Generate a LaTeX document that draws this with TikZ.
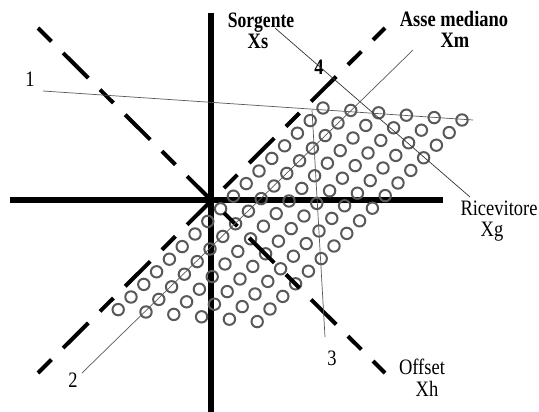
\documentclass[tikz,border=0pt]{standalone}
\usepackage{graphicx}
\usepackage{fontspec}
\setmainfont{Liberation Serif}
\usetikzlibrary{positioning}
\newcommand{\squeeze}[1]{\scalebox{0.84}[1]{#1}}

\begin{document}
\begin{tikzpicture}[x=1pt, y=-1pt,
  axis/.style={line width=5.5pt},
  dashaxis/.style={line width=4pt, dash pattern=on 19pt off 16.5pt on 35.4pt off 16.5pt},
  leader/.style={draw=black!65, line width=0.7pt},
  ring/.style={draw=black!65, line width=2pt},
  lbl/.style={font=\fontsize{22}{24}\selectfont, anchor=base, inner sep=0pt},
  blbl/.style={font=\fontsize{22}{24}\selectfont\bfseries, anchor=base, inner sep=0pt},
  num/.style={font=\fontsize{22}{24}\selectfont, anchor=base, inner sep=0pt},
]
\useasboundingbox[fill=white] (0,0) rectangle (539,412);

% Axes
\coordinate (o) at (211,200);
\coordinate (ytop) at (211,13);
\coordinate (ybot) at (211,412);
\coordinate (xleft) at (10,200);
\coordinate (xright) at (443,200);
\draw[axis] (ytop) -- (ybot);
\draw[axis] (xleft) -- (xright);

% Traces (6 rows x 17 points)
\foreach \j in {0,...,5}
  \foreach \i in {0,...,16}
    \draw[ring] ({323+27.8*\j-12.8*\i},{108+2.4*\j+12.6*\i}) circle (5.7pt);

% Offset and median axes
\coordinate (hstart) at (38,28);
\coordinate (hend) at (385,373);
\coordinate (mstart) at (38,373);
\coordinate (mend) at (385,28);
\draw[dashaxis] (hstart) -- (hend);
\draw[dashaxis] (mstart) -- (mend);

% Labels
\node[blbl] (sorg) at (261,28) {\scalebox{0.8}[1]{Sorgente}};
\node[blbl] (sorgx) at (258,49) {\squeeze{Xs}};
\node[blbl] (asse) at (454,27) {\squeeze{Asse mediano}};
\node[blbl] (assex) at (455,48) {\squeeze{Xm}};
\node[lbl] (ricev) at (499,215) {\squeeze{Ricevitore}};
\node[lbl] (ricevx) at (492,236) {\squeeze{Xg}};
\node[lbl] (offs) at (422,374) {\squeeze{Offset}};
\node[lbl] (offsx) at (427,396) {\squeeze{Xh}};
\node[num] (n1) at (30,87) {\squeeze{1}};
\node[num] (n2) at (73,387) {\squeeze{2}};
\node[num] (n3) at (332,365) {\squeeze{3}};
\node[num, font=\fontsize{22}{24}\selectfont\bfseries] (n4) at (319,75) {\squeeze{4}};

% Leader lines
\coordinate (a1) at (43,91);
\coordinate (b1) at (473,120);
\coordinate (a2) at (82,373);
\coordinate (b2) at (413,50);
\coordinate (a3) at (325,337);
\coordinate (b3) at (312,110);
\coordinate (a4) at (275,28);
\coordinate (b4) at (470,197);
\draw[leader] (a1) -- (b1);
\draw[leader] (a2) -- (b2);
\draw[leader] (a3) -- (b3);
\draw[leader, draw=black!80] (a4) -- (b4);

\end{tikzpicture}
\end{document}
